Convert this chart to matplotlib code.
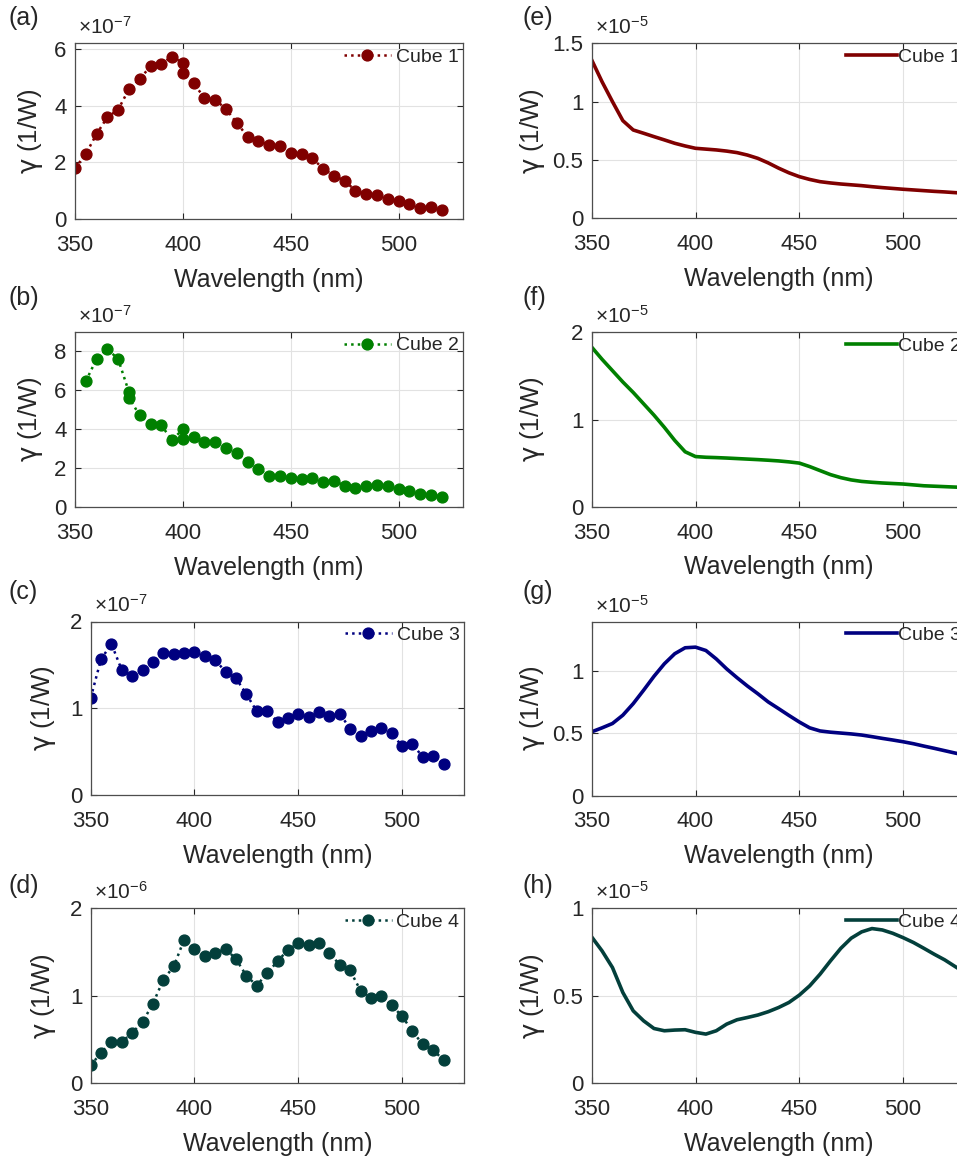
import matplotlib
matplotlib.use('Agg')
import matplotlib.pyplot as plt
from matplotlib.ticker import FuncFormatter

plt.rcParams['font.family'] = ['Liberation Sans', 'DejaVu Sans']
plt.rcParams['mathtext.fontset'] = 'custom'
plt.rcParams['mathtext.rm'] = 'Liberation Sans'
plt.rcParams['mathtext.it'] = 'Liberation Sans:italic'
plt.rcParams['mathtext.sf'] = 'DejaVu Sans'
plt.rcParams['mathtext.default'] = 'regular'

# ---------------- data ----------------
# left column: measured points (values in units of the panel's exponent)
wl_a = [350, 355, 360, 365, 370, 375, 380, 385, 390, 395, 400, 400, 405, 410, 415, 420, 425, 430,
        435, 440, 445, 450, 455, 460, 465, 470, 475, 480, 485, 490, 495, 500, 505, 510, 515, 520]
gamma_a = [1.79, 2.29, 3.00, 3.59, 3.86, 4.58, 4.94, 5.39, 5.47, 5.73, 5.51, 5.15, 4.79, 4.27,
           4.21, 3.88, 3.39, 2.91, 2.76, 2.61, 2.58, 2.32, 2.29, 2.14, 1.78, 1.53, 1.35, 1.00,
           0.88, 0.84, 0.71, 0.62, 0.53, 0.38, 0.41, 0.33]   # x1e-7

wl_b = [355, 360, 365, 370, 375, 375, 380, 385, 390, 395, 400, 400, 405, 410, 415, 420, 425, 430,
        435, 440, 445, 450, 455, 460, 465, 470, 475, 480, 485, 490, 495, 500, 505, 510, 515, 520]
gamma_b = [6.47, 7.61, 8.12, 7.61, 5.91, 5.62, 4.71, 4.26, 4.20, 3.44, 4.00, 3.52, 3.61, 3.32,
           3.32, 3.06, 2.76, 2.33, 1.96, 1.62, 1.62, 1.51, 1.43, 1.51, 1.31, 1.36, 1.09, 0.97,
           1.06, 1.14, 1.06, 0.94, 0.80, 0.68, 0.61, 0.54]   # x1e-7

wl_cd = [350, 355, 360, 365, 370, 375, 380, 385, 390, 395, 400, 405, 410, 415, 420, 425, 430, 435,
         440, 445, 450, 455, 460, 465, 470, 475, 480, 485, 490, 495, 500, 505, 510, 515, 520]
gamma_c = [1.12, 1.567, 1.741, 1.439, 1.366, 1.439, 1.528, 1.636, 1.625, 1.632, 1.652, 1.598,
           1.555, 1.42, 1.346, 1.161, 0.967, 0.967, 0.843, 0.89, 0.928, 0.901, 0.959, 0.909,
           0.936, 0.766, 0.685, 0.743, 0.774, 0.716, 0.561, 0.588, 0.437, 0.445, 0.36]  # x1e-7
gamma_d = [0.205, 0.349, 0.474, 0.474, 0.577, 0.702, 0.911, 1.184, 1.336, 1.64, 1.537, 1.457,
           1.488, 1.537, 1.419, 1.23, 1.116, 1.26, 1.393, 1.526, 1.602, 1.575, 1.602, 1.488,
           1.355, 1.29, 1.059, 0.975, 0.994, 0.892, 0.767, 0.596, 0.444, 0.38, 0.266]  # x1e-6

# right column: simulated curves
wl_sim = [350, 355, 360, 365, 370, 375, 380, 385, 390, 395, 400, 405, 410, 415, 420, 425, 430,
          435, 440, 445, 450, 455, 460, 465, 470, 475, 480, 485, 490, 495, 500, 505, 510, 515,
          520, 525, 530]
gamma_e = [1.357, 1.17, 1.0, 0.837, 0.757, 0.729, 0.70, 0.672, 0.643, 0.62, 0.60, 0.593, 0.586,
           0.576, 0.563, 0.542, 0.514, 0.475, 0.43, 0.39, 0.357, 0.333, 0.314, 0.303, 0.294,
           0.287, 0.28, 0.271, 0.263, 0.256, 0.249, 0.243, 0.237, 0.231, 0.226, 0.22, 0.215]  # x1e-5
gamma_f = [1.83, 1.69, 1.56, 1.43, 1.31, 1.18, 1.05, 0.91, 0.76, 0.63, 0.575, 0.567, 0.563,
           0.558, 0.552, 0.546, 0.540, 0.533, 0.525, 0.514, 0.50, 0.46, 0.414, 0.368, 0.333,
           0.307, 0.29, 0.28, 0.272, 0.266, 0.26, 0.25, 0.24, 0.235, 0.23, 0.225, 0.22]  # x1e-5
gamma_g = [0.513, 0.545, 0.58, 0.647, 0.74, 0.848, 0.96, 1.061, 1.142, 1.19, 1.195, 1.168, 1.10,
           1.02, 0.949, 0.882, 0.82, 0.754, 0.70, 0.645, 0.592, 0.545, 0.52, 0.51, 0.503, 0.496,
           0.487, 0.474, 0.46, 0.447, 0.433, 0.417, 0.398, 0.38, 0.361, 0.342, 0.325]  # x1e-5
gamma_h = [0.836, 0.756, 0.661, 0.518, 0.413, 0.356, 0.312, 0.299, 0.303, 0.305, 0.29, 0.28,
           0.299, 0.337, 0.362, 0.375, 0.389, 0.408, 0.432, 0.461, 0.503, 0.556, 0.623, 0.699,
           0.771, 0.829, 0.865, 0.884, 0.876, 0.857, 0.832, 0.804, 0.771, 0.737, 0.705, 0.667,
           0.63]  # x1e-5

series_names = ['Cube 1', 'Cube 2', 'Cube 3', 'Cube 4']
panel_letters = ['(a)', '(b)', '(c)', '(d)', '(e)', '(f)', '(g)', '(h)']
x_ticks = [350, 400, 450, 500]

# ---------------- style / layout ----------------
colors = ['#800000', '#008000', '#000080', '#033F3B']
W, H = 957, 1162
fig = plt.figure(figsize=(W / 100, H / 100), dpi=100)


def add_ax(l, t, r, b):
    return fig.add_axes([l / W, 1 - b / H, (r - l) / W, (b - t) / H])


def style(ax, box, ylim, yticks, exp, ylabel_px):
    l, t, r, b = box
    ax.set_xlim(350, 530)
    ax.set_ylim(ylim[0] * 10 ** exp, ylim[1] * 10 ** exp)
    ax.set_xticks(x_ticks)
    ax.set_yticks([v * 10 ** exp for v in yticks])
    ax.yaxis.set_major_formatter(FuncFormatter(lambda v, p, e=exp: f'{v / 10 ** e:g}'))
    ax.grid(True, color='#e2e2e2', lw=0.8)
    ax.set_axisbelow(True)
    ax.tick_params(axis='both', direction='in', length=4, width=0.8, top=True, right=True,
                   labelsize=16, colors='#262626')
    ax.tick_params(axis='x', pad=11.5)
    ax.tick_params(axis='y', pad=6)
    for s in ax.spines.values():
        s.set_color('#4d4d4d')
        s.set_linewidth(0.9)
    ax.set_xlabel('Wavelength (nm)', fontsize=18, color='#262626')
    ax.xaxis.set_label_coords(0.5, -67.5 / (b - t))
    ax.xaxis.label.set_va('baseline')
    ax.set_ylabel(r'$\mathsf{\gamma}$ (1/W)', fontsize=18.5, color='#262626')
    ax.yaxis.set_label_coords((ylabel_px - l) / (r - l), 0.5)
    ax.text(0.008, 1.03, r'$\times10^{%d}$' % exp, transform=ax.transAxes, fontsize=15,
            color='#262626', ha='left', va='bottom')


left_boxes = [(75, 43.3, 463.3, 219), (75, 332, 463.3, 507),
              (90.7, 621.5, 464.3, 795), (90.7, 908.3, 464.3, 1083.3)]
right_boxes = [(591.7, 43.3, 965.4, 218.3), (591.7, 332.3, 965.4, 506.7),
               (591.7, 621.7, 965.4, 795.5), (591.7, 908.3, 965.4, 1083)]
label_y = [18, 298, 592, 886]

left_data = [(wl_a, gamma_a, -7, (0, 6.2), [0, 2, 4, 6]),
             (wl_b, gamma_b, -7, (0, 9), [0, 2, 4, 6, 8]),
             (wl_cd, gamma_c, -7, (0, 2), [0, 1, 2]),
             (wl_cd, gamma_d, -6, (0, 2), [0, 1, 2])]
right_data = [(gamma_e, (0, 1.5), [0, 0.5, 1, 1.5]),
              (gamma_f, (0, 2), [0, 1, 2]),
              (gamma_g, (0, 1.4), [0, 0.5, 1]),
              (gamma_h, (0, 1), [0, 0.5, 1])]
left_ylabel_px = [45, 45, 58, 58]

for i in range(4):
    wl, g, exp, ylim, yt = left_data[i]
    ax = add_ax(*left_boxes[i])
    ax.plot(wl, [v * 10 ** exp for v in g], linestyle=':', color=colors[i], lw=1.8,
            marker='o', ms=7.8, mec=colors[i], mfc=colors[i], label=series_names[i])
    style(ax, left_boxes[i], ylim, yt, exp, left_ylabel_px[i])
    ax.legend(loc='upper right', frameon=False, fontsize=14, handlelength=2.4,
              handletextpad=0.25, borderaxespad=0.05, borderpad=0.2, labelcolor='#262626')
    fig.text(8 / W, 1 - label_y[i] / H, panel_letters[i], fontsize=18, ha='left', va='center',
             color='#262626')

for i in range(4):
    g, ylim, yt = right_data[i]
    ax = add_ax(*right_boxes[i])
    ax.plot(wl_sim, [v * 1e-5 for v in g], '-', color=colors[i], lw=2.6,
            label=series_names[i], solid_joinstyle='round')
    style(ax, right_boxes[i], ylim, yt, -5, 547)
    ax.legend(loc='upper right', frameon=False, fontsize=14, handlelength=2.6,
              handletextpad=0.05, borderaxespad=0.05, borderpad=0.2, labelcolor='#262626')
    fig.text(522 / W, 1 - label_y[i] / H, panel_letters[i + 4], fontsize=18, ha='left',
             va='center', color='#262626')

fig.savefig('out.png', dpi=100)
